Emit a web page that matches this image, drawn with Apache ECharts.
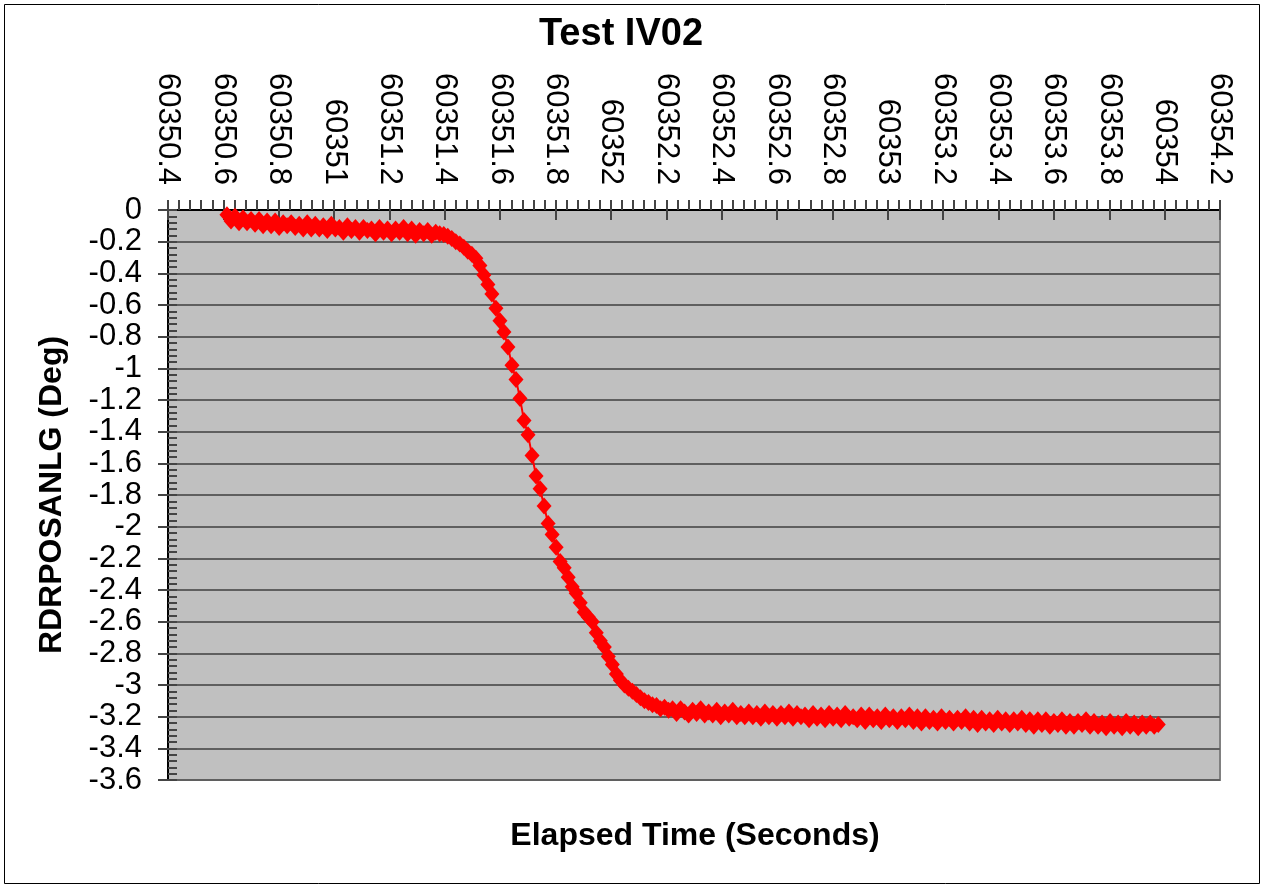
<!DOCTYPE html>
<html>
<head>
<meta charset="utf-8">
<title>Test IV02</title>
<script src="https://cdn.jsdelivr.net/npm/echarts@6/dist/echarts.min.js"></script>
<style>
  html, body { margin: 0; padding: 0; background: #fff; }
  #chart { width: 1265px; height: 888px; }
</style>
</head>
<body>
<div id="chart"></div>
<script>
// elapsed time (s), one sample every ~0.0145 s
var elapsedTime = [
  60350.6130, 60350.6275, 60350.6420, 60350.6565, 60350.6710, 60350.6855, 60350.7000, 60350.7145, 60350.7290, 60350.7435,
  60350.7580, 60350.7725, 60350.7870, 60350.8015, 60350.8160, 60350.8305, 60350.8450, 60350.8595, 60350.8740, 60350.8885,
  60350.9030, 60350.9175, 60350.9320, 60350.9465, 60350.9610, 60350.9755, 60350.9900, 60351.0045, 60351.0190, 60351.0335,
  60351.0480, 60351.0625, 60351.0770, 60351.0915, 60351.1060, 60351.1205, 60351.1350, 60351.1495, 60351.1640, 60351.1785,
  60351.1930, 60351.2075, 60351.2220, 60351.2365, 60351.2510, 60351.2655, 60351.2800, 60351.2945, 60351.3090, 60351.3235,
  60351.3380, 60351.3525, 60351.3670, 60351.3815, 60351.3960, 60351.4105, 60351.4250, 60351.4395, 60351.4540, 60351.4685,
  60351.4830, 60351.4975, 60351.5120, 60351.5265, 60351.5410, 60351.5555, 60351.5700, 60351.5845, 60351.5990, 60351.6135,
  60351.6280, 60351.6425, 60351.6570, 60351.6715, 60351.6860, 60351.7005, 60351.7150, 60351.7295, 60351.7440, 60351.7585,
  60351.7730, 60351.7875, 60351.8020, 60351.8165, 60351.8310, 60351.8455, 60351.8600, 60351.8745, 60351.8890, 60351.9035,
  60351.9180, 60351.9325, 60351.9470, 60351.9615, 60351.9760, 60351.9905, 60352.0050, 60352.0195, 60352.0340, 60352.0485,
  60352.0630, 60352.0775, 60352.0920, 60352.1065, 60352.1210, 60352.1355, 60352.1500, 60352.1645, 60352.1790, 60352.1935,
  60352.2080, 60352.2225, 60352.2370, 60352.2515, 60352.2660, 60352.2805, 60352.2950, 60352.3095, 60352.3240, 60352.3385,
  60352.3530, 60352.3675, 60352.3820, 60352.3965, 60352.4110, 60352.4255, 60352.4400, 60352.4545, 60352.4690, 60352.4835,
  60352.4980, 60352.5125, 60352.5270, 60352.5415, 60352.5560, 60352.5705, 60352.5850, 60352.5995, 60352.6140, 60352.6285,
  60352.6430, 60352.6575, 60352.6720, 60352.6865, 60352.7010, 60352.7155, 60352.7300, 60352.7445, 60352.7590, 60352.7735,
  60352.7880, 60352.8025, 60352.8170, 60352.8315, 60352.8460, 60352.8605, 60352.8750, 60352.8895, 60352.9040, 60352.9185,
  60352.9330, 60352.9475, 60352.9620, 60352.9765, 60352.9910, 60353.0055, 60353.0200, 60353.0345, 60353.0490, 60353.0635,
  60353.0780, 60353.0925, 60353.1070, 60353.1215, 60353.1360, 60353.1505, 60353.1650, 60353.1795, 60353.1940, 60353.2085,
  60353.2230, 60353.2375, 60353.2520, 60353.2665, 60353.2810, 60353.2955, 60353.3100, 60353.3245, 60353.3390, 60353.3535,
  60353.3680, 60353.3825, 60353.3970, 60353.4115, 60353.4260, 60353.4405, 60353.4550, 60353.4695, 60353.4840, 60353.4985,
  60353.5130, 60353.5275, 60353.5420, 60353.5565, 60353.5710, 60353.5855, 60353.6000, 60353.6145, 60353.6290, 60353.6435,
  60353.6580, 60353.6725, 60353.6870, 60353.7015, 60353.7160, 60353.7305, 60353.7450, 60353.7595, 60353.7740, 60353.7885,
  60353.8030, 60353.8175, 60353.8320, 60353.8465, 60353.8610, 60353.8755, 60353.8900, 60353.9045, 60353.9190, 60353.9335,
  60353.9480, 60353.9625, 60353.9770
];

// RDRPOSANLG (Deg)
var rdrposanlg = [
  -0.03, -0.07, -0.04, -0.08, -0.05, -0.08, -0.06, -0.09, -0.06, -0.10,
  -0.07, -0.10, -0.07, -0.11, -0.08, -0.10, -0.08, -0.11, -0.09, -0.12,
  -0.08, -0.12, -0.09, -0.12, -0.10, -0.13, -0.09, -0.12, -0.11, -0.14,
  -0.10, -0.13, -0.11, -0.14, -0.11, -0.13, -0.12, -0.15, -0.11, -0.14,
  -0.12, -0.15, -0.12, -0.14, -0.11, -0.15, -0.12, -0.16, -0.13, -0.15,
  -0.13, -0.16, -0.14,
  -0.15, -0.155, -0.165, -0.18, -0.20, -0.215, -0.235, -0.26, -0.28, -0.305,
  -0.35, -0.41, -0.47, -0.53, -0.62, -0.70, -0.77, -0.865, -0.98, -1.07,
  -1.19, -1.33, -1.42, -1.55, -1.68, -1.76, -1.87, -1.98, -2.05, -2.13,
  -2.22, -2.26, -2.32, -2.38, -2.42, -2.48, -2.54, -2.57, -2.60, -2.67,
  -2.72, -2.76, -2.82, -2.87, -2.93, -2.97, -3.00, -3.02, -3.04, -3.06,
  -3.08, -3.10, -3.11, -3.125, -3.13, -3.15, -3.14, -3.16,
  -3.15, -3.18, -3.15, -3.17, -3.19, -3.16, -3.18, -3.15, -3.19, -3.17,
  -3.19, -3.16, -3.20, -3.17, -3.19, -3.16, -3.20, -3.18, -3.20, -3.17,
  -3.20, -3.18, -3.21, -3.17, -3.20, -3.18, -3.21, -3.18, -3.20, -3.17,
  -3.21, -3.18, -3.20, -3.19, -3.22, -3.18, -3.21, -3.19, -3.22, -3.18,
  -3.21, -3.19, -3.22, -3.18, -3.21, -3.20, -3.22, -3.19, -3.23, -3.19,
  -3.22, -3.20, -3.23, -3.19, -3.22, -3.20, -3.23, -3.20, -3.22, -3.19,
  -3.23, -3.20, -3.24, -3.20, -3.23, -3.21, -3.24, -3.20, -3.23, -3.21,
  -3.24, -3.21, -3.23, -3.20, -3.24, -3.21, -3.25, -3.21, -3.24, -3.22,
  -3.25, -3.21, -3.24, -3.22, -3.25, -3.22, -3.24, -3.21, -3.25, -3.22,
  -3.26, -3.22, -3.25, -3.22, -3.26, -3.23, -3.25, -3.22, -3.26, -3.23,
  -3.26, -3.23, -3.25, -3.22, -3.26, -3.23, -3.26, -3.24, -3.27, -3.23,
  -3.26, -3.24, -3.27, -3.23, -3.26, -3.24, -3.27, -3.24, -3.26, -3.24,
  -3.26, -3.25
];

var xMin = 60350.4, xMax = 60354.2, xStep = 0.2;
var yMin = -3.6, yMax = 0, yStep = 0.2;

var fontName = '"Liberation Sans", Arial, sans-serif';

function oneDecimal(v) {
    return String(Math.round(v * 10) / 10);
}

var points = elapsedTime.map(function (t, i) {
    return [t, rdrposanlg[i]];
});

var myChart = echarts.init(document.getElementById('chart'));
var option = {
    animation: false,
    backgroundColor: '#fff',
    textStyle: { fontFamily: fontName },
    grid: {
        left: 168,
        right: 45,
        top: 210,
        bottom: 108,
        show: true,
        backgroundColor: '#c0c0c0',
        borderColor: '#808080',
        borderWidth: 2,
        outerBoundsMode: 'none'
    },
    graphic: [
        {
            type: 'rect',
            shape: { x: 4.5, y: 4.5, width: 1255, height: 879 },
            style: { fill: 'none', stroke: '#000', lineWidth: 1 },
            silent: true
        },
        {
            type: 'text',
            x: 621,
            y: 16,
            style: {
                text: 'Test IV02',
                font: 'bold 38px ' + fontName,
                fill: '#000',
                textAlign: 'center'
            }
        },
        {
            type: 'text',
            x: 695,
            y: 820,
            style: {
                text: 'Elapsed Time (Seconds)',
                font: 'bold 32px ' + fontName,
                fill: '#000',
                textAlign: 'center'
            }
        }
    ],
    xAxis: [
        {
            type: 'value',
            position: 'top',
            min: xMin,
            max: xMax,
            interval: xStep,
            axisLine: { show: true, onZero: false, lineStyle: { color: '#000', width: 2 } },
            axisTick: { show: true, inside: false, length: 10, lineStyle: { color: '#444', width: 2 } },
            minorTick: { show: true, splitNumber: 5, length: 10, lineStyle: { color: '#444', width: 2 } },
            axisLabel: {
                rotate: 90,
                margin: 25,
                fontSize: 31,
                color: '#000',
                fontFamily: fontName,
                formatter: oneDecimal
            },
            splitLine: { show: false }
        },
        {
            // inner half of the major ticks
            type: 'value',
            position: 'top',
            min: xMin,
            max: xMax,
            interval: xStep,
            axisLine: { show: false },
            axisTick: { show: true, inside: true, length: 10, lineStyle: { color: '#444', width: 2 } },
            axisLabel: { show: false },
            splitLine: { show: false }
        }
    ],
    yAxis: [
        {
            type: 'value',
            position: 'left',
            min: yMin,
            max: yMax,
            interval: yStep,
            name: 'RDRPOSANLG (Deg)',
            nameLocation: 'middle',
            nameGap: 100,
            nameTextStyle: { fontSize: 32, fontWeight: 'bold', color: '#000', fontFamily: fontName },
            axisLine: { show: true, onZero: false, lineStyle: { color: '#000', width: 2 } },
            axisTick: { show: true, inside: false, length: 10, lineStyle: { color: '#444', width: 2 } },
            axisLabel: {
                margin: 26,
                fontSize: 31,
                color: '#000',
                fontFamily: fontName,
                formatter: oneDecimal
            },
            splitLine: { show: true, lineStyle: { color: '#5f5f5f', width: 2 } }
        },
        {
            // inner ticks with minor marks
            type: 'value',
            position: 'left',
            min: yMin,
            max: yMax,
            interval: yStep,
            axisLine: { show: false },
            axisTick: { show: true, inside: true, length: 9, lineStyle: { color: '#444', width: 2 } },
            minorTick: { show: true, splitNumber: 5, length: 9, lineStyle: { color: '#444', width: 2 } },
            axisLabel: { show: false },
            splitLine: { show: false }
        }
    ],
    series: [
        {
            name: 'RDRPOSANLG',
            type: 'line',
            xAxisIndex: 0,
            yAxisIndex: 0,
            data: points,
            symbol: 'diamond',
            symbolSize: [15, 17],
            showAllSymbol: true,
            itemStyle: { color: '#ff0000' },
            lineStyle: { color: '#ff0000', width: 2 }
        }
    ]
};
myChart.setOption(option);
</script>
</body>
</html>
